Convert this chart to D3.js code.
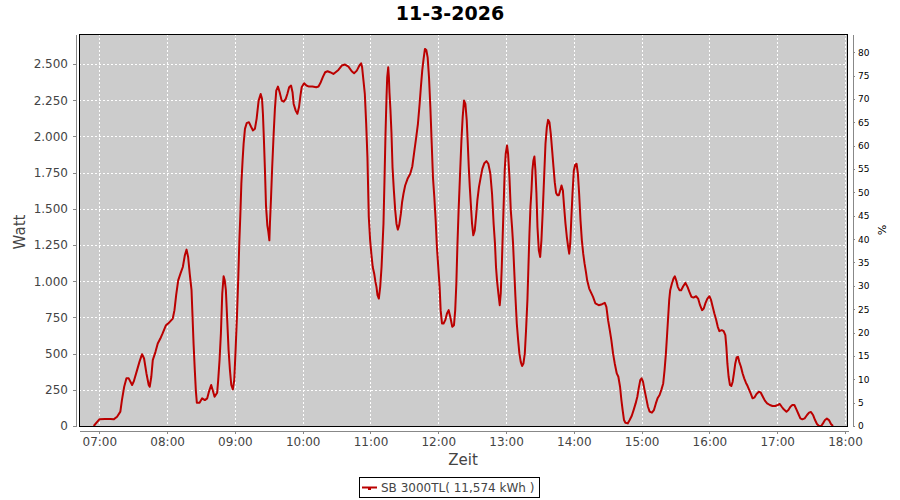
<!DOCTYPE html>
<html>
<head>
<meta charset="utf-8">
<script src="https://cdn.jsdelivr.net/npm/d3@7"></script>
<style>
  body { margin: 0; background: #fff; }
  svg { font-family: "DejaVu Sans", sans-serif; }
</style>
</head>
<body>
<svg id="chart" width="900" height="500"></svg>
<script>
const title = "11-3-2026";
const legendLabel = "SB 3000TL( 11,574 kWh )";

// times of the samples (hh:mm:ss) and power in watt
const times = [
  "06:55:00","07:00:00","07:05:00","07:10:00","07:12:42","07:15:42","07:18:36","07:20:00","07:22:00","07:24:00",
  "07:26:00","07:29:00","07:30:24","07:33:24","07:35:30","07:37:48","07:39:36","07:41:42","07:43:42","07:44:36",
  "07:46:00","07:47:18","07:49:42","07:51:42","07:54:00","07:56:00","07:59:00","08:01:30","08:05:00","08:06:30",
  "08:08:00","08:09:48","08:11:48","08:13:54","08:15:42","08:17:12","08:18:36","08:20:00","08:21:36","08:22:30",
  "08:23:24","08:24:30","08:25:24","08:26:18","08:28:42","08:31:00","08:33:24","08:35:30","08:37:00","08:39:00",
  "08:40:30","08:42:00","08:44:18","08:45:12","08:46:24","08:47:36","08:48:48","08:50:00","08:51:00","08:52:00",
  "08:53:12","08:54:24","08:55:36","08:56:48","08:58:12","08:59:24","09:00:36","09:01:48","09:03:00","09:03:54",
  "09:04:48","09:05:42","09:06:48","09:07:42","09:08:54","09:10:24","09:12:24","09:14:12","09:16:00","09:17:42",
  "09:19:12","09:21:00","09:22:48","09:24:00","09:24:48","09:25:42","09:26:36","09:27:30","09:28:42","09:29:36",
  "09:30:30","09:31:00","09:32:00","09:33:00","09:34:18","09:35:24","09:36:36","09:38:06","09:39:36","09:41:24",
  "09:43:12","09:45:00","09:46:24","09:48:00","09:49:42","09:51:00","09:52:00","09:53:48","09:55:18","09:56:42",
  "09:58:00","09:59:06","10:01:12","10:03:18","10:05:36","10:08:36","10:12:00","10:14:00","10:16:00","10:18:00",
  "10:19:54","10:22:00","10:24:12","10:27:12","10:31:36","10:34:36","10:37:30","10:40:30","10:43:24","10:45:30",
  "10:47:54","10:50:12","10:51:42","10:52:36","10:53:48","10:55:00","10:56:12","10:57:18","10:58:30","10:59:42",
  "11:00:54","11:02:00","11:03:18","11:04:24","11:05:18","11:06:12","11:07:24","11:08:36","11:09:48","11:10:36",
  "11:11:30","11:12:24","11:13:18","11:14:12","11:14:48","11:15:42","11:16:18","11:16:48","11:17:42","11:18:36",
  "11:19:30","11:20:42","11:21:54","11:23:00","11:24:12","11:25:24","11:26:54","11:28:00","11:29:12","11:30:42",
  "11:32:48","11:35:12","11:37:00","11:38:42","11:40:30","11:42:00","11:43:30","11:44:36","11:45:48","11:47:00",
  "11:48:12","11:49:24","11:50:36","11:51:48","11:53:00","11:54:12","11:55:18","11:56:30","11:57:42","11:58:48",
  "12:00:00","12:01:12","12:02:06","12:03:18","12:04:42","12:06:12","12:07:42","12:09:12","12:10:36","12:12:24",
  "12:13:54","12:15:00","12:16:00","12:16:54","12:18:00","12:19:18","12:20:30","12:21:36","12:22:48","12:24:00",
  "12:25:12","12:26:00","12:27:00","12:27:54","12:28:48","12:29:54","12:31:00","12:32:18","12:33:24","12:34:36",
  "12:36:00","12:37:36","12:39:00","12:40:48","12:42:36","12:44:18","12:46:06","12:47:36","12:49:00","12:50:12",
  "12:51:06","12:52:00","12:53:12","12:54:24","12:55:18","12:56:12","12:57:00","12:58:00","12:58:48","12:59:42",
  "13:00:54","13:01:48","13:03:00","13:04:12","13:05:18","13:06:12","13:07:06","13:08:18","13:09:30","13:10:42",
  "13:11:48","13:13:00","13:14:12","13:15:24","13:16:36","13:17:42","13:18:54","13:19:48","13:20:42","13:21:36",
  "13:22:30","13:23:18","13:24:12","13:25:06","13:26:00","13:26:54","13:27:48","13:29:00","13:30:12","13:31:18",
  "13:32:30","13:33:42","13:34:54","13:36:06","13:37:12","13:38:24","13:39:36","13:40:48","13:42:00","13:43:06",
  "13:44:18","13:45:30","13:46:42","13:47:54","13:49:06","13:50:18","13:51:24","13:52:36","13:53:48","13:55:00",
  "13:55:54","13:56:48","13:57:42","13:58:48","14:00:00","14:01:12","14:02:24","14:03:36","14:04:42","14:05:54",
  "14:07:06","14:08:18","14:09:30","14:10:42","14:11:48","14:13:36","14:17:00","14:19:06","14:22:00","14:25:00",
  "14:27:24","14:28:48","14:30:18","14:31:48","14:33:12","14:34:42","14:36:12","14:38:00","14:39:24","14:40:54",
  "14:42:06","14:43:12","14:44:24","14:45:36","14:47:42","14:49:24","14:51:12","14:52:54","14:54:42","14:56:12",
  "14:57:24","14:58:48","15:00:00","15:01:12","15:02:36","15:04:06","15:05:36","15:07:06","15:09:06","15:10:54",
  "15:12:36","15:14:06","15:15:54","15:17:36","15:19:06","15:20:18","15:21:30","15:22:36","15:23:30","15:24:24",
  "15:25:18","15:26:48","15:28:12","15:29:24","15:30:36","15:32:00","15:33:30","15:35:00","15:36:48","15:38:48",
  "15:40:36","15:42:18","15:44:06","15:45:54","15:48:12","15:50:00","15:51:42","15:53:30","15:55:00","15:56:24",
  "15:58:12","16:00:00","16:01:30","16:02:54","16:04:24","16:05:54","16:07:24","16:08:48","16:10:54","16:12:36",
  "16:14:06","16:15:00","16:15:54","16:17:00","16:18:12","16:19:24","16:20:36","16:21:42","16:22:54","16:24:06",
  "16:25:18","16:26:24","16:27:54","16:29:24","16:30:48","16:32:18","16:33:48","16:35:18","16:36:42","16:38:12",
  "16:40:00","16:41:42","16:43:48","16:45:30","16:47:18","16:49:06","16:51:06","16:53:30","16:55:48","16:58:12",
  "17:00:30","17:02:18","17:04:00","17:05:48","17:08:12","17:09:54","17:11:42","17:13:24","17:15:12","17:17:00",
  "17:18:48","17:20:30","17:22:18","17:24:18","17:26:24","17:28:12","17:29:54","17:31:42","17:33:30","17:35:12",
  "17:37:00","17:39:00","17:40:30","17:42:18","17:44:00","17:45:48","17:47:36","17:49:24"
];

const watts = [
  0,46,48,48,46,64,99,179,271,329,
  329,283,306,386,443,496,466,363,283,271,
  340,455,512,570,604,639,696,712,742,800,
  903,1006,1052,1098,1179,1218,1167,1052,938,754,
  570,386,248,161,161,191,179,191,237,283,
  244,202,230,317,455,639,915,1034,1006,938,
  731,524,386,283,253,317,524,754,1029,1271,
  1455,1673,1834,1949,2052,2091,2098,2068,2041,2052,
  2121,2247,2293,2259,2156,1972,1765,1524,1386,1340,
  1282,1397,1581,1788,2018,2190,2316,2344,2305,2247,
  2240,2259,2293,2339,2351,2305,2224,2178,2156,2201,
  2282,2339,2367,2351,2344,2344,2339,2344,2374,2413,
  2443,2450,2443,2431,2459,2489,2496,2482,2450,2436,
  2454,2489,2505,2477,2385,2293,2087,1857,1443,1282,
  1179,1098,1052,995,961,903,880,961,1098,1236,
  1397,1696,2018,2270,2408,2477,2408,2305,2178,2018,
  1788,1627,1489,1397,1356,1386,1466,1547,1604,1661,
  1707,1742,1792,1891,1995,2087,2224,2339,2454,2535,
  2604,2597,2546,2408,2201,1949,1719,1581,1420,1236,
  1098,961,800,708,708,731,777,800,754,685,
  696,800,984,1236,1489,1742,1972,2133,2247,2224,
  2110,1972,1788,1650,1535,1397,1317,1351,1443,1558,
  1650,1719,1776,1815,1829,1811,1742,1604,1397,1259,
  1098,1006,915,834,915,1098,1305,1558,1765,1880,
  1937,1880,1719,1489,1374,1259,1098,892,708,593,
  501,443,414,432,501,662,869,1098,1328,1512,
  1627,1765,1834,1861,1765,1604,1374,1213,1167,1282,
  1489,1719,1949,2064,2114,2098,2018,1903,1788,1684,
  1609,1593,1593,1627,1661,1627,1512,1397,1305,1236,
  1190,1259,1420,1604,1765,1804,1811,1742,1604,1420,
  1282,1190,1121,1064,1006,949,892,846,834,841,
  850,823,731,662,593,501,432,363,340,271,
  179,110,41,23,18,41,69,110,156,202,
  260,317,329,306,248,191,133,99,92,110,
  156,191,214,253,294,386,501,639,754,869,
  938,984,1018,1034,1006,961,938,938,965,988,
  961,926,892,887,896,880,834,800,811,846,
  880,896,869,823,777,735,685,655,662,655,
  627,547,432,340,283,276,306,363,432,473,
  478,443,409,363,329,299,276,248,221,191,
  198,221,237,230,202,175,156,145,138,138,
  145,152,133,115,99,110,133,145,145,115,
  83,53,46,53,76,92,97,76,41,14,
  0,0,18,41,51,41,14,0
];

const hourTicks = ["07:00","08:00","09:00","10:00","11:00","12:00","13:00","14:00","15:00","16:00","17:00","18:00"];
const wattTicks = [0, 250, 500, 750, 1000, 1250, 1500, 1750, 2000, 2250, 2500];
const percentTicks = [0, 5, 10, 15, 20, 25, 30, 35, 40, 45, 50, 55, 60, 65, 70, 75, 80];

const plotLeft = 79, plotRight = 848, plotTop = 34, plotBottom = 426;
const lineColor = "#bb0000";
const labelColor = "#444444";

const parseTime = d3.timeParse("%H:%M:%S");
const parseHour = d3.timeParse("%H:%M");
const de = d3.formatLocale({decimal: ",", thousands: ".", grouping: [3], currency: ["", " €"]});

const data = times.map((t, i) => ({time: parseTime(t), value: watts[i]}));

const x = d3.scaleTime()
  .domain([parseTime("06:42:00"), parseTime("18:02:40")])
  .range([plotLeft, plotRight]);
const y = d3.scaleLinear().domain([0, 2707]).range([plotBottom, plotTop]);
const yRight = d3.scaleLinear().domain([0, 83.9]).range([plotBottom, plotTop]);

const svg = d3.select("#chart");

svg.append("text")
  .attr("x", 450)
  .attr("y", 20)
  .attr("text-anchor", "middle")
  .attr("font-size", 19)
  .attr("font-weight", "bold")
  .attr("fill", "#000")
  .text(title);

// plot area
svg.append("rect")
  .attr("x", plotLeft).attr("y", plotTop)
  .attr("width", plotRight - plotLeft).attr("height", plotBottom - plotTop)
  .attr("fill", "#cccccc");

const grid = svg.append("g")
  .attr("stroke", "#fff")
  .attr("stroke-dasharray", "2,2")
  .attr("shape-rendering", "crispEdges");

grid.selectAll(".hgrid")
  .data(wattTicks)
  .enter()
  .append("line")
  .attr("x1", plotLeft).attr("x2", plotRight)
  .attr("y1", d => Math.round(y(d)) + 0.5).attr("y2", d => Math.round(y(d)) + 0.5);

grid.selectAll(".vgrid")
  .data(hourTicks)
  .enter()
  .append("line")
  .attr("y1", plotTop).attr("y2", plotBottom)
  .attr("x1", d => Math.round(x(parseHour(d))) + 0.5).attr("x2", d => Math.round(x(parseHour(d))) + 0.5);

const line = d3.line()
  .x(d => x(d.time))
  .y(d => y(d.value));

svg.append("path")
  .datum(data)
  .attr("fill", "none")
  .attr("stroke", lineColor)
  .attr("stroke-width", 2)
  .attr("stroke-linejoin", "round")
  .attr("d", line);

svg.append("rect")
  .attr("x", plotLeft + 0.5).attr("y", plotTop + 0.5)
  .attr("width", plotRight - plotLeft - 1).attr("height", plotBottom - plotTop)
  .attr("fill", "none")
  .attr("stroke", "#000")
  .attr("shape-rendering", "crispEdges");

// axes
function styleAxis(g, color, size)
{
  g.select(".domain").attr("stroke", "#888");
  g.selectAll(".tick line").attr("stroke", "#888");
  g.selectAll(".tick text")
    .attr("fill", color)
    .attr("font-size", size)
    .attr("font-family", "DejaVu Sans, sans-serif");
}

const yAxis = svg.append("g")
  .attr("transform", "translate(76,0)")
  .attr("shape-rendering", "crispEdges")
  .call(d3.axisLeft(y).tickValues(wattTicks).tickSize(3).tickSizeOuter(0).tickPadding(5).tickFormat(de.format(",d")));
styleAxis(yAxis, labelColor, 12);

const rAxis = svg.append("g")
  .attr("transform", "translate(853,0)")
  .attr("shape-rendering", "crispEdges")
  .call(d3.axisRight(yRight).tickValues(percentTicks).tickSize(2).tickSizeOuter(0).tickPadding(3));
styleAxis(rAxis, "#000", 9);

const xAxis = svg.append("g")
  .attr("transform", "translate(0,431)")
  .attr("shape-rendering", "crispEdges")
  .call(d3.axisBottom(x).tickValues(hourTicks.map(parseHour)).tickSize(3).tickSizeOuter(0).tickPadding(3).tickFormat(d3.timeFormat("%H:%M")));
styleAxis(xAxis, labelColor, 12);

svg.append("text")
  .attr("transform", "translate(25,232) rotate(-90)")
  .attr("text-anchor", "middle")
  .attr("font-size", 15)
  .attr("fill", labelColor)
  .text("Watt");

svg.append("text")
  .attr("x", 463)
  .attr("y", 465)
  .attr("text-anchor", "middle")
  .attr("font-size", 15)
  .attr("fill", labelColor)
  .text("Zeit");

svg.append("text")
  .attr("transform", "translate(878,230) rotate(90)")
  .attr("text-anchor", "middle")
  .attr("font-size", 11)
  .attr("fill", "#000")
  .text("%");

// legend
const legend = svg.append("g").attr("transform", "translate(359,477)");
legend.append("rect")
  .attr("x", 0.5).attr("y", 0.5)
  .attr("width", 180).attr("height", 20)
  .attr("fill", "#fff")
  .attr("stroke", "#000")
  .attr("shape-rendering", "crispEdges");
legend.append("line")
  .attr("x1", 3).attr("x2", 18)
  .attr("y1", 10.5).attr("y2", 10.5)
  .attr("stroke", lineColor)
  .attr("stroke-width", 2);
legend.append("rect")
  .attr("x", 9).attr("y", 10)
  .attr("width", 3).attr("height", 3)
  .attr("fill", lineColor);
legend.append("text")
  .attr("x", 22)
  .attr("y", 15)
  .attr("font-size", 12)
  .attr("fill", labelColor)
  .text(legendLabel);
</script>
</body>
</html>
